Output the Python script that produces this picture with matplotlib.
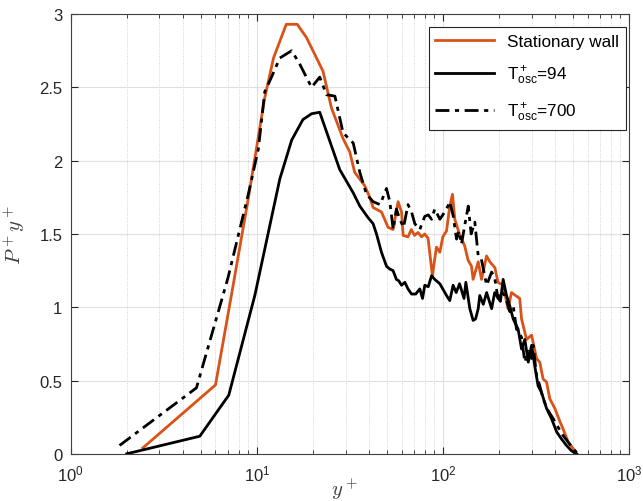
import matplotlib
matplotlib.use('Agg')
import matplotlib.pyplot as plt
from matplotlib.ticker import FormatStrFormatter, LogLocator

plt.rcParams['font.family'] = ['Liberation Sans', 'DejaVu Sans']
plt.rcParams['mathtext.fontset'] = 'custom'
plt.rcParams['mathtext.rm'] = 'Liberation Sans'
plt.rcParams['mathtext.it'] = 'Liberation Sans:italic'
plt.rcParams['mathtext.bf'] = 'Liberation Sans:bold'

# stationary wall (orange)
y_stat = [2.44, 6.0, 7.3, 9.0, 11.0, 12.3, 14.4, 16.5, 18.5, 22.7,
          25.2, 29.1, 31.6, 33.6, 38.0, 40.5, 42.2, 46.8, 50.8, 54.0,
          57.5, 60.0, 61.2, 65.0, 67.7, 70.5, 73.6, 76.8, 80.0, 83.3,
          85.1, 87.9, 90.5, 92.5, 96.4, 100.0, 104.7, 109.0, 112.7, 116.0,
          123.5, 131.0, 136.8, 142.6, 145.5, 155.0, 161.5, 171.8, 179.0, 190.5,
          198.0, 211.0, 224.0, 234.0, 246.0, 259.0, 265.0, 282.0, 300.0, 319.0,
          332.0, 346.0, 361.0, 376.0, 400.0, 426.0, 443.0, 472.0, 513.0, 524.0]
p_stat = [0.04, 0.47, 1.08, 1.74, 2.42, 2.70, 2.93, 2.93, 2.84, 2.61,
          2.36, 2.15, 2.06, 1.92, 1.83, 1.75, 1.68, 1.65, 1.545, 1.53,
          1.72, 1.65, 1.49, 1.48, 1.53, 1.49, 1.51, 1.48, 1.50, 1.47,
          1.37, 1.215, 1.33, 1.41, 1.375, 1.48, 1.52, 1.69, 1.77, 1.60,
          1.49, 1.42, 1.32, 1.28, 1.19, 1.31, 1.19, 1.35, 1.31, 1.27,
          1.17, 1.15, 0.99, 1.10, 1.08, 1.06, 0.92, 0.78, 0.81, 0.65,
          0.625, 0.51, 0.49, 0.375, 0.31, 0.22, 0.17, 0.08, 0.02, 0.0]

# T+osc = 94 (solid black)
y_94 = [2.0, 4.94, 7.07, 9.76, 13.3, 15.4, 17.7, 19.7, 21.8, 27.9,
        33.0, 35.8, 39.7, 42.2, 44.0, 46.8, 49.8, 51.9, 54.0, 56.3,
        58.0, 60.0, 62.5, 65.0, 67.9, 71.5, 75.2, 77.8, 80.0, 83.5,
        87.0, 90.5, 96.4, 104.7, 109.0, 113.6, 118.0, 123.0, 130.0, 133.0,
        139.7, 145.5, 150.0, 155.0, 158.0, 165.0, 172.0, 183.0, 190.0, 204.0,
        211.0, 220.0, 229.0, 239.0, 254.0, 265.0, 276.0, 288.0, 300.0, 312.0,
        325.0, 339.0, 361.0, 384.0, 409.0, 435.0, 462.0, 492.0, 524.0]
p_94 = [0.0, 0.12, 0.40, 1.08, 1.875, 2.14, 2.28, 2.32, 2.33, 1.94,
        1.78, 1.69, 1.61, 1.57, 1.50, 1.375, 1.28, 1.26, 1.25, 1.19,
        1.18, 1.15, 1.17, 1.125, 1.09, 1.09, 1.125, 1.06, 1.15, 1.14,
        1.215, 1.19, 1.16, 1.08, 1.045, 1.15, 1.10, 1.16, 1.06, 1.17,
        0.99, 0.91, 0.92, 0.99, 1.08, 1.02, 1.10, 0.99, 1.10, 1.04,
        1.19, 1.08, 1.01, 0.92, 0.85, 0.715, 0.78, 0.625, 0.74, 0.60,
        0.465, 0.42, 0.31, 0.24, 0.15, 0.10, 0.057, 0.02, 0.0]

# T+osc = 700 (dash-dot black)
y_700 = [1.83, 4.74, 7.0, 9.0, 10.2, 11.04, 12.0, 13.3, 15.4, 17.0,
         19.7, 21.8, 23.7, 26.3, 29.1, 33.0, 35.8, 38.9, 42.2, 46.0,
         49.8, 51.9, 54.1, 56.3, 58.7, 61.5, 65.0, 67.9, 70.7, 75.2,
         80.0, 83.5, 87.0, 90.5, 96.4, 100.0, 104.7, 109.0, 113.6, 118.5,
         122.0, 126.0, 131.0, 137.0, 142.0, 148.6, 155.0, 161.0, 172.0, 183.0,
         190.0, 198.0, 205.0, 215.0, 222.0, 229.0, 239.0, 249.0, 265.0, 276.0,
         288.0, 300.0, 306.0, 319.0, 332.0, 346.0, 368.0, 392.0, 417.0, 443.0,
         472.0, 502.0, 524.0]
p_700 = [0.057, 0.45, 1.2, 1.77, 2.08, 2.47, 2.57, 2.70, 2.75, 2.66,
         2.50, 2.57, 2.45, 2.44, 2.19, 2.12, 1.92, 1.77, 1.72, 1.70,
         1.81, 1.72, 1.53, 1.67, 1.60, 1.545, 1.70, 1.65, 1.57, 1.53,
         1.62, 1.63, 1.60, 1.67, 1.60, 1.63, 1.67, 1.72, 1.625, 1.465,
         1.52, 1.43, 1.555, 1.69, 1.50, 1.58, 1.35, 1.33, 1.15, 1.24,
         1.20, 1.06, 1.11, 1.08, 1.03, 0.97, 1.01, 0.85, 0.795, 0.625,
         0.70, 0.65, 0.74, 0.535, 0.465, 0.375, 0.295, 0.24, 0.18, 0.125,
         0.08, 0.034, 0.01]

labels = ['Stationary wall', r'T$^+_{\mathrm{osc}}$=94', r'T$^+_{\mathrm{osc}}$=700']

fig = plt.figure(figsize=(6.43, 5.02), dpi=100)
ax = fig.add_axes([0.110, 0.094, 0.868, 0.876])

ax.plot(y_stat, p_stat, color='#D95319', lw=2, label=labels[0])
ax.plot(y_94, p_94, color='black', lw=2, label=labels[1])
ax.plot(y_700, p_700, color='black', lw=2, ls=(0, (5, 2, 1.5, 2)), label=labels[2])

ax.set_xscale('log')
ax.set_xlim(1, 1000)
ax.set_ylim(0, 3)
ax.set_yticks([0, 0.5, 1, 1.5, 2, 2.5, 3])
ax.yaxis.set_major_formatter(FormatStrFormatter('%g'))
ax.xaxis.set_minor_locator(LogLocator(base=10, subs=range(2, 10)))

ax.grid(which='major', color='#e0e0e0', lw=0.8)
ax.grid(which='minor', axis='x', color='#c8c8c8', lw=0.6, ls=':')
ax.set_axisbelow(True)

ax.tick_params(which='both', direction='in', top=True, right=True,
               colors='#262626', labelsize=12)
ax.tick_params(which='major', length=5)
ax.tick_params(which='minor', length=3)
ax.tick_params(axis='x', which='major', pad=7)
ax.tick_params(axis='y', which='major', pad=6)
for s in ax.spines.values():
    s.set_color('#404040')
    s.set_linewidth(0.8)

ax.set_xlabel('$y^+$', fontsize=15, math_fontfamily='cm', color='#404040')
ax.xaxis.set_label_coords(0.49, -0.05)
ax.set_ylabel('$P^+y^+$', fontsize=15, math_fontfamily='cm', color='#404040')
ax.yaxis.set_label_coords(-0.078, 0.5)

leg = ax.legend(loc='upper right', bbox_to_anchor=(0.995, 0.97), fontsize=12.3,
                handlelength=3.4, fancybox=False, framealpha=1,
                edgecolor='#262626', labelspacing=0.85, borderaxespad=0)
leg.get_frame().set_linewidth(0.8)

fig.savefig('out.png', dpi=100)
